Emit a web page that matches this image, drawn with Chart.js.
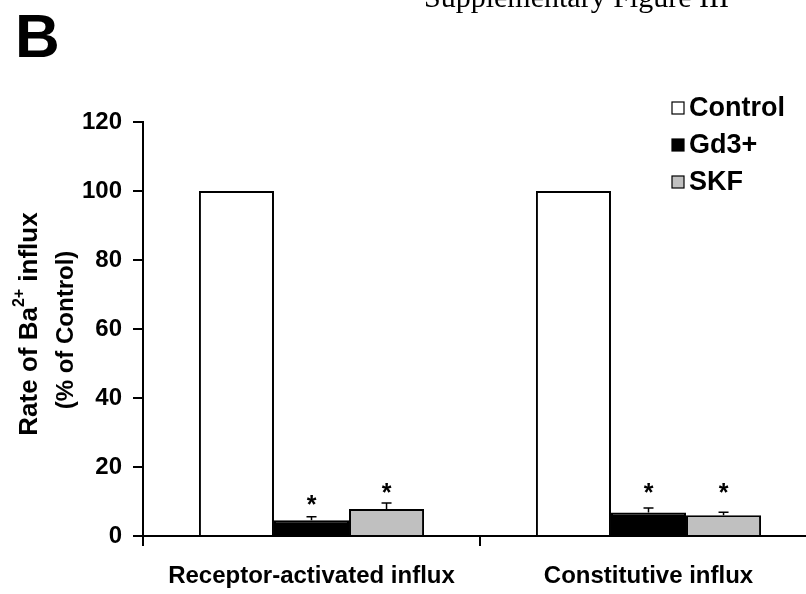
<!DOCTYPE html>
<html>
<head>
<meta charset="utf-8">
<script src="https://cdn.jsdelivr.net/npm/chart.js@4.4.1/dist/chart.umd.min.js"></script>
<style>
  html, body { margin: 0; padding: 0; background: #fff; overflow: hidden; }
  canvas { display: block; }
</style>
</head>
<body>
<canvas id="grafikBa" width="824" height="594"></canvas>
<script>
// data
const categories = ['Receptor-activated influx', 'Constitutive influx'];
const controlVals = [100, 100];
const gdVals = [4.6, 6.8];
const skfVals = [7.8, 6.0];
const controlErr = [0, 0];
const gdErr = [1.0, 1.3];
const skfErr = [1.8, 0.9];
// height (in % units) where the significance stars sit
const gdStar = [10.2, 13.7];
const skfStar = [13.7, 13.7];
const yTicks = [0, 20, 40, 60, 80, 100, 120];

const FONT = "'Liberation Sans', Arial, sans-serif";

// error bars + asterisks
const errorBars = {
  id: 'errorBars',
  afterDatasetsDraw(chart) {
    const ctx = chart.ctx;
    const y = chart.scales.y;
    chart.data.datasets.forEach((ds, i) => {
      const meta = chart.getDatasetMeta(i);
      meta.data.forEach((bar, j) => {
        const err = ds.err[j];
        if (err > 0) {
          const top = y.getPixelForValue(ds.data[j] + err);
          ctx.save();
          ctx.strokeStyle = '#000';
          ctx.lineWidth = 1.5;
          ctx.beginPath();
          ctx.moveTo(bar.x, bar.y);
          ctx.lineTo(bar.x, top);
          ctx.moveTo(bar.x - 5, top);
          ctx.lineTo(bar.x + 5, top);
          ctx.stroke();
          ctx.restore();
        }
        if (ds.star && ds.star[j] != null) {
          ctx.save();
          ctx.fillStyle = '#000';
          ctx.font = 'bold 25px ' + FONT;
          ctx.textAlign = 'center';
          ctx.textBaseline = 'middle';
          ctx.fillText('*', bar.x, y.getPixelForValue(ds.star[j]) + 5);
          ctx.restore();
        }
      });
    });
  }
};

// legend, y title, panel letter, page heading
const decorations = {
  id: 'decorations',
  afterDraw(chart) {
    const ctx = chart.ctx;
    ctx.save();
    ctx.fillStyle = '#000';
    ctx.textAlign = 'left';
    ctx.textBaseline = 'alphabetic';

    ctx.font = '30px "Liberation Serif", "Times New Roman", serif';
    ctx.fillText('Supplementary Figure III', 424, 7);

    ctx.font = 'bold 62px ' + FONT;
    ctx.fillText('B', 15, 57);

    // legend
    const baselines = [116, 153, 190];
    ctx.font = 'bold 27px ' + FONT;
    chart.data.datasets.forEach((ds, i) => {
      const b = baselines[i];
      ctx.fillStyle = ds.backgroundColor;
      ctx.fillRect(672, b - 14, 12, 12);
      ctx.strokeStyle = '#000';
      ctx.lineWidth = 1.2;
      ctx.strokeRect(672, b - 14, 12, 12);
      ctx.fillStyle = '#000';
      ctx.fillText(ds.label, 689, b);
    });

    // y axis title, two lines with superscript
    ctx.save();
    ctx.translate(37, 324);
    ctx.rotate(-Math.PI / 2);
    const big = 'bold 26px ' + FONT;
    const small = 'bold 16px ' + FONT;
    ctx.font = big;
    const w1 = ctx.measureText('Rate of Ba').width;
    const w3 = ctx.measureText(' influx').width;
    ctx.font = small;
    const w2 = ctx.measureText('2+').width;
    let x0 = -(w1 + w2 + w3) / 2;
    ctx.font = big;
    ctx.fillText('Rate of Ba', x0, 0);
    ctx.font = small;
    ctx.fillText('2+', x0 + w1, -13);
    ctx.font = big;
    ctx.fillText(' influx', x0 + w1 + w2, 0);
    ctx.restore();

    ctx.save();
    ctx.translate(73, 330);
    ctx.rotate(-Math.PI / 2);
    ctx.font = 'bold 24px ' + FONT;
    ctx.textAlign = 'center';
    ctx.fillText('(% of Control)', 0, 0);
    ctx.restore();

    ctx.restore();
  }
};

const ctxBa = document.getElementById('grafikBa');
let grafikBa = new Chart(ctxBa, {
  type: 'bar',
  data: {
    labels: categories,
    datasets: [{
      label: 'Control',
      data: controlVals,
      err: controlErr,
      backgroundColor: '#ffffff',
      borderColor: '#000000',
      borderWidth: 2
    }, {
      label: 'Gd3+',
      data: gdVals,
      err: gdErr,
      star: gdStar,
      backgroundColor: '#000000',
      borderColor: '#000000',
      borderWidth: 2
    }, {
      label: 'SKF',
      data: skfVals,
      err: skfErr,
      star: skfStar,
      backgroundColor: '#c0c0c0',
      borderColor: '#000000',
      borderWidth: 2
    }]
  },
  options: {
    responsive: false,
    animation: false,
    events: [],
    categoryPercentage: 0.668,
    barPercentage: 1.0,
    layout: {
      padding: { left: 0, top: 122, right: 7, bottom: 0 }
    },
    plugins: {
      legend: { display: false },
      tooltip: { enabled: false }
    },
    scales: {
      x: {
        grid: {
          display: true,
          drawOnChartArea: false,
          drawTicks: true,
          tickLength: 10,
          color: '#000',
          lineWidth: 2
        },
        border: { display: true, color: '#000', width: 2 },
        ticks: {
          color: '#000',
          padding: 16,
          font: { family: FONT, size: 24, weight: 'bold' }
        },
        afterFit(scale) { scale.height = 58; }
      },
      y: {
        min: 0,
        max: 120,
        afterBuildTicks(scale) { scale.ticks = yTicks.map(v => ({ value: v })); },
        grid: {
          display: true,
          drawOnChartArea: false,
          drawTicks: true,
          tickLength: 10,
          color: '#000',
          lineWidth: 2
        },
        border: { display: true, color: '#000', width: 2 },
        ticks: {
          color: '#000',
          padding: 11,
          font: { family: FONT, size: 24, weight: 'bold' }
        },
        afterFit(scale) { scale.width = 143; }
      }
    }
  },
  plugins: [errorBars, decorations]
});
</script>
</body>
</html>
